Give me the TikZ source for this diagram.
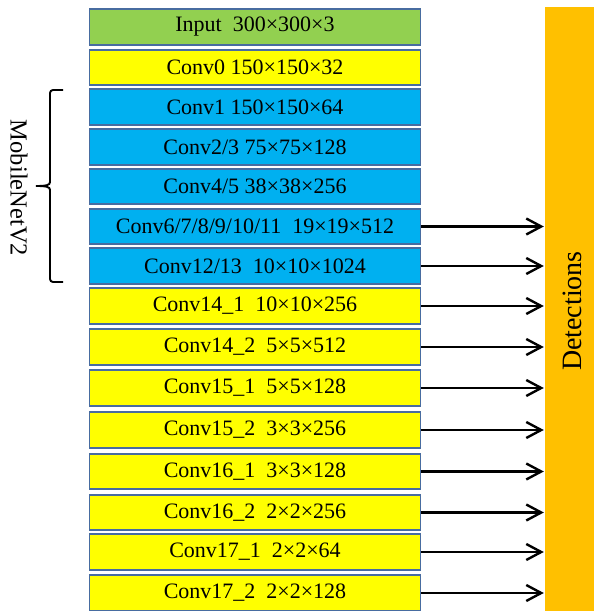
\documentclass[tikz,border=0pt]{standalone}
\usepackage{fontspec}
\setmainfont{Liberation Serif}
\usetikzlibrary{arrows.meta}
\definecolor{inGreen}{RGB}{146,208,80}
\definecolor{convYellow}{RGB}{255,255,0}
\definecolor{mnBlue}{RGB}{0,176,240}
\definecolor{detOrange}{RGB}{255,192,0}
\definecolor{edgeBlue}{RGB}{72,108,160}
\tikzset{
  layer/.style={draw=edgeBlue, line width=1.8pt, minimum width=331pt,
    minimum height=35.5pt, inner sep=0pt, font=\fontsize{22}{24}\selectfont},
  inlayer/.style={layer, fill=inGreen},
  yellayer/.style={layer, fill=convYellow},
  bluelayer/.style={layer, fill=mnBlue},
  feed/.style={line width=2.4pt, -{Straight Barb[length=15pt,width=16pt,line width=2.4pt]}},
  brace/.style={line width=1.9pt}
}
\begin{document}
\begin{tikzpicture}[x=1pt,y=1pt]
\useasboundingbox (0,0) rectangle (594,611);
% layer stack (centres at x = 255)
\node[inlayer]   (r0)  at (255,584) {Input\ \ 300×300×3};
\node[yellayer]  (r1)  at (255,543.5) {Conv0 150×150×32};
\node[bluelayer] (r2)  at (255,504) {Conv1 150×150×64};
\node[bluelayer] (r3)  at (255,464) {Conv2/3 75×75×128};
\node[bluelayer] (r4)  at (255,424.5) {Conv4/5 38×38×256};
\node[bluelayer] (r5)  at (255,384.5) {Conv6/7/8/9/10/11\ \ 19×19×512};
\node[bluelayer] (r6)  at (255,345) {Conv12/13\ \ 10×10×1024};
\node[yellayer]  (r7)  at (255,305) {Conv14\_1\ \ 10×10×256};
\node[yellayer]  (r8)  at (255,264) {Conv14\_2\ \ 5×5×512};
\node[yellayer]  (r9)  at (255,223) {Conv15\_1\ \ 5×5×128};
\node[yellayer]  (r10) at (255,181) {Conv15\_2\ \ 3×3×256};
\node[yellayer]  (r11) at (255,139.5) {Conv16\_1\ \ 3×3×128};
\node[yellayer]  (r12) at (255,98.5) {Conv16\_2\ \ 2×2×256};
\node[yellayer]  (r13) at (255,59) {Conv17\_1\ \ 2×2×64};
\node[yellayer]  (r14) at (255,18) {Conv17\_2\ \ 2×2×128};
% detection head bar
\node[fill=detOrange, minimum width=49pt, minimum height=604pt, inner sep=0pt]
  (det) at (569.5,302) {};
\node[rotate=90, font=\fontsize{28}{30}\selectfont] (detlabel) at (572,300) {Detections};
% feature maps feeding the detector
\foreach \i in {5,...,14}{
  \draw[feed] (r\i.east) -- ([xshift=-1pt]r\i.east -| det.west);
}
% backbone brace and label
\draw[brace, rounded corners=3pt] (63,521) -- (50,521) -- (50,428);
\draw[brace] (50,429) .. controls (50,426) and (47,425) .. (36,425);
\draw[brace] (50,421) .. controls (50,424) and (47,425) .. (36,425);
\draw[brace, rounded corners=3pt] (50,422) -- (50,329) -- (63,329);
\node[rotate=-90, font=\fontsize{24.5}{26}\selectfont] (mnlabel) at (19,423) {MobileNetV2};
\end{tikzpicture}
\end{document}
